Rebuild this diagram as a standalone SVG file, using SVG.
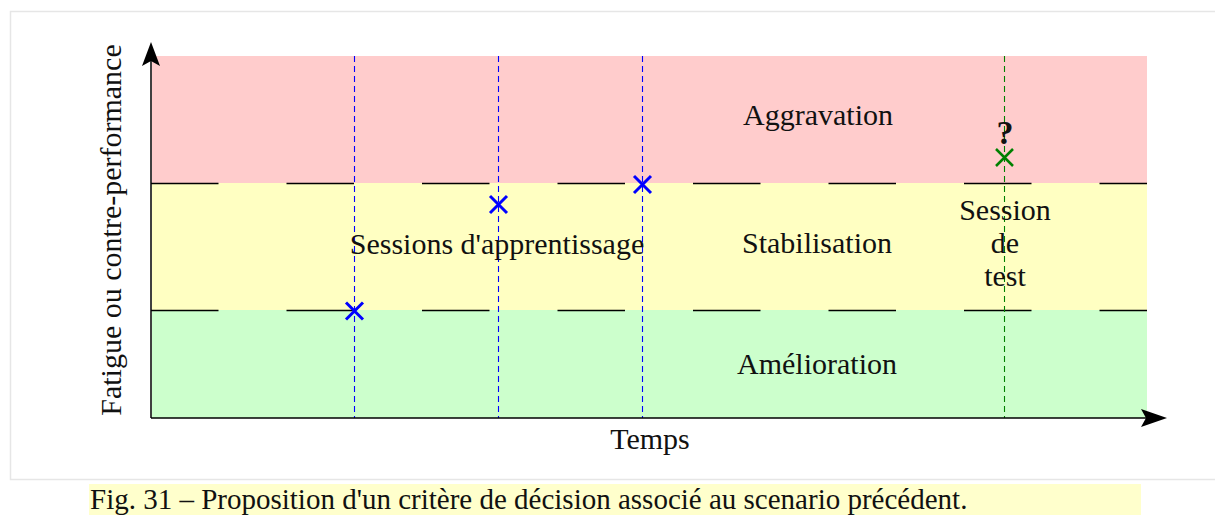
<svg xmlns="http://www.w3.org/2000/svg" width="1215" height="515" viewBox="0 0 1215 515">
<defs>
<style>
.t{font-family:"Liberation Serif","Times New Roman",serif;font-size:30px;fill:#111;text-anchor:middle}
.band{stroke:none}
.sep{stroke:#000;stroke-width:1.3;stroke-dasharray:67.5 68}
.vb{stroke:#0000ff;stroke-width:1.1;stroke-dasharray:6 4;fill:none}
.vg{stroke:#008000;stroke-width:1.1;stroke-dasharray:6 4;fill:none}
.xb{stroke:#0000ff;stroke-width:3;fill:none}
.xg{stroke:#008000;stroke-width:2.5;fill:none}
.axis{stroke:#000;stroke-width:1.5;fill:none}
</style>
</defs>
<rect x="0" y="0" width="1215" height="515" fill="#fff"/>
<rect x="10.5" y="11.5" width="1210" height="468" fill="#fff" stroke="#e6e6e6" stroke-width="1.5"/>

<g id="bands">
<rect id="aggravation-band" class="band" x="152" y="56" width="995" height="127" fill="#ffcccc"/>
<rect id="stabilisation-band" class="band" x="152" y="183" width="995" height="127" fill="#ffffc2"/>
<rect id="amelioration-band" class="band" x="152" y="310" width="995" height="108" fill="#ccffcc"/>
</g>

<g id="connectors">
<line class="sep" x1="151" y1="183.5" x2="1147" y2="183.5"/>
<line class="sep" x1="151" y1="310.5" x2="1147" y2="310.5"/>
<line class="vb" x1="354.5" y1="56" x2="354.5" y2="418" stroke="#0000ff"/>
<line class="vb" x1="498.5" y1="56" x2="498.5" y2="418" stroke="#0000ff"/>
<line class="vb" x1="642.5" y1="56" x2="642.5" y2="418" stroke="#0000ff"/>
<line class="vg" x1="1004.5" y1="56" x2="1004.5" y2="418" stroke="#008000"/>
<line class="axis" x1="151" y1="418" x2="151" y2="60" stroke="#444"/>
<polygon points="151,42 160,66 151,61 142,66" fill="#000"/>
<line class="axis" x1="151" y1="418" x2="1150" y2="418"/>
<polygon points="1167,418 1141,427 1146,418 1141,409" fill="#000"/>
</g>

<g id="points">
<path class="xb" d="M346,302.5 L363,319.5 M363,302.5 L346,319.5"/>
<path class="xb" d="M490,196 L507,213 M507,196 L490,213"/>
<path class="xb" d="M634,176 L651,193 M651,176 L634,193"/>
<path class="xg" d="M996,149 L1013,166 M1013,149 L996,166"/>
</g>

<g id="labels">
<text class="t" x="818" y="125">Aggravation</text>
<text class="t" x="817" y="253">Stabilisation</text>
<text class="t" x="817" y="374">Amélioration</text>
<text class="t" x="497" y="254">Sessions d'apprentissage</text>
<text class="t" x="1005" y="220">Session</text>
<text class="t" x="1005" y="253">de</text>
<text class="t" x="1005" y="286">test</text>
<text class="t" x="1005" y="144" style="font-weight:bold;font-size:34px">?</text>
<text class="t" x="650" y="449">Temps</text>
<text class="t" transform="translate(121,230) rotate(-90)">Fatigue ou contre-performance</text>
</g>

<g id="caption">
<rect x="89" y="484" width="1052" height="31" fill="#ffffcc"/>
<text x="90" y="509" style="font-family:'Liberation Serif','Times New Roman',serif;font-size:29px;fill:#111">Fig. 31 – Proposition d'un critère de décision associé au scenario précédent.</text>
</g>
</svg>
